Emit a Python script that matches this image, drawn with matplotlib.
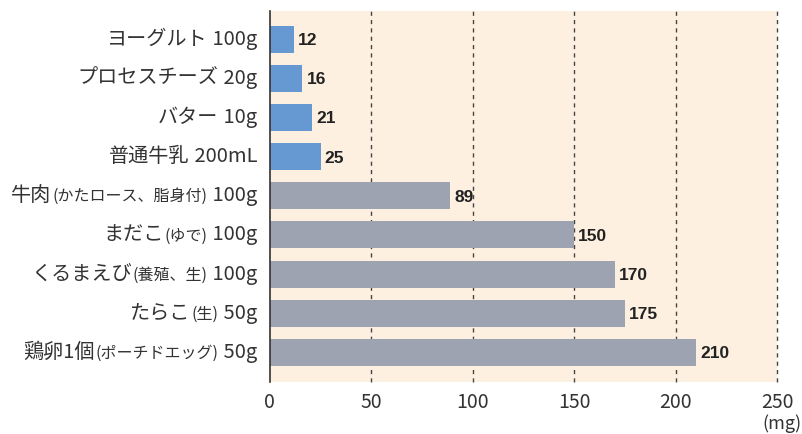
import matplotlib.pyplot as plt
from matplotlib.offsetbox import TextArea, HPacker, AnnotationBbox

plt.rcParams['font.family'] = ['Noto Sans CJK JP', 'DejaVu Sans']

# food name, note in brackets, portion
names = ["ヨーグルト", "プロセスチーズ", "バター", "普通牛乳", "牛肉", "まだこ",
         "くるまえび", "たらこ", "鶏卵1個"]
notes = ["", "", "", "", "(かたロース、脂身付)", "(ゆで)", "(養殖、生)", "(生)",
         "(ポーチドエッグ)"]
portions = ["100g", "20g", "10g", "200mL", "100g", "100g", "100g", "50g", "50g"]
values = [12, 16, 21, 25, 89, 150, 170, 175, 210]
dairy = [True, True, True, True, False, False, False, False, False]

x_ticks = [0, 50, 100, 150, 200, 250]

blue = "#6699d1"
gray = "#9ea3b2"
bg = "#fdf0e0"
text_col = "#333333"

fig = plt.figure(figsize=(8.03, 4.34), dpi=100)
ax = fig.add_axes([0.336, 0.12, 0.6316, 0.855])
ax.set_facecolor(bg)

ypos = list(range(len(values)))
colors = [blue if d else gray for d in dairy]
ax.barh(ypos, values, height=0.69, color=colors, zorder=2)

for y, v in zip(ypos, values):
    ax.annotate(str(v), (v, y), xytext=(3, -1), textcoords="offset points",
                va="center", ha="left", fontsize=12.5, fontweight="bold",
                family=["Liberation Sans Narrow", "Liberation Sans", "DejaVu Sans"],
                color="#222222")

ax.set_xlim(0, 250)
ax.set_ylim(8.75, -0.72)
ax.set_xticks(x_ticks)
ax.set_xticklabels([str(t) for t in x_ticks], fontsize=14, color=text_col)
ax.tick_params(axis="x", length=0, pad=7)
ax.set_yticks([])

for t in x_ticks[1:]:
    ax.axvline(t, color="#444444", linestyle=(0, (3, 3)), linewidth=1,
               zorder=1, clip_on=False)

for s in ["top", "right", "bottom"]:
    ax.spines[s].set_visible(False)
ax.spines["left"].set_color("#333333")
ax.spines["left"].set_linewidth(1.2)

# category labels: name, smaller bracket note, portion, right aligned to axis
for y, n, note, p in zip(ypos, names, notes, portions):
    parts = [TextArea(n, textprops=dict(fontsize=14.5, color=text_col))]
    if note:
        parts.append(TextArea(note, textprops=dict(fontsize=11.5, color=text_col)))
    parts.append(TextArea(" " + p, textprops=dict(fontsize=14.5, color=text_col)))
    box = HPacker(children=parts, align="baseline", pad=0, sep=0.5)
    ab = AnnotationBbox(box, (0, y), xybox=(-9, 0), xycoords=("data", "data"),
                        boxcoords="offset points", box_alignment=(1, 0.5),
                        frameon=False, annotation_clip=False)
    ax.add_artist(ab)

fig.text(0.998, 0.003, "(mg)", ha="right", va="bottom", fontsize=13, color=text_col)

fig.savefig("out.png", dpi=100)
